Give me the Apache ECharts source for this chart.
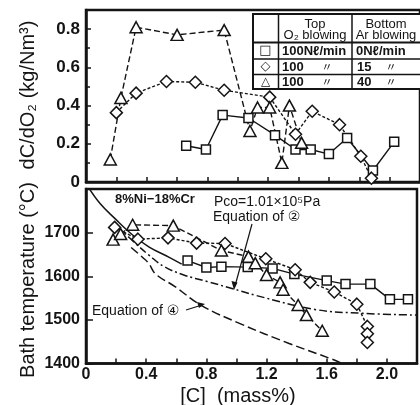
<!DOCTYPE html>
<html><head><meta charset="utf-8">
<script src="https://cdn.jsdelivr.net/npm/echarts@6/dist/echarts.min.js"></script>
<style>html,body{margin:0;padding:0;background:#fff}#c{width:420px;height:405px}</style>
</head><body><div id="c"></div>
<script>
// ---- Data ----
// Top panel: dC/dO2 (kg/Nm3) vs [C] mass%
const topSquareC  = [0.66,0.79,0.90,1.07,1.245,1.38,1.48,1.60,1.72,1.89,2.03];
const topSquareV  = [0.19,0.17,0.35,0.335,0.245,0.17,0.17,0.146,0.23,0.06,0.21];
const topDiamondC = [0.20,0.33,0.53,0.72,0.91,1.21,1.38,1.49,1.67,1.81,1.88];
const topDiamondV = [0.363,0.465,0.526,0.522,0.48,0.444,0.25,0.37,0.30,0.135,0.02];
const topTriC     = [0.16,0.23,0.33,0.60,0.91,1.08,1.13,1.21,1.29,1.34,1.42];
const topTriV     = [0.118,0.44,0.81,0.77,0.795,0.267,0.39,0.39,0.10,0.40,0.205];
// Bottom panel: bath temperature (°C) vs [C] mass%
const botSquareC  = [0.675,0.80,0.90,1.075,1.24,1.385,1.60,1.725,1.89,2.02,2.14];
const botSquareT  = [1636,1620,1622,1621,1618,1605,1590,1582,1582,1547,1547];
const botDiamondC = [0.19,0.345,0.545,0.735,0.924,1.195,1.39,1.49,1.65,1.80,1.87,1.87,1.87];
const botDiamondT = [1712,1685,1688,1676,1675,1640,1615,1586,1564,1536,1485,1468,1448];
const botTriC     = [0.18,0.23,0.31,0.58,0.90,1.08,1.125,1.20,1.29,1.31,1.41,1.465,1.57];
const botTriT     = [1684,1697,1718,1716,1659,1645,1630,1603,1586,1569,1534,1511,1475];
// Equilibrium curves
const solidCurveC = [0.008,0.095,0.193,0.312,0.42,0.55,0.636];
const solidCurveT = [1808,1766,1732,1694,1667,1644,1628];
const eq2C = [0.203,0.333,0.42,0.52,0.65,0.805,0.97,1.13,1.52,1.84,2.2];
const eq2T = [1716,1674,1648,1622,1603,1588,1572,1556,1524,1515,1511];
const eq4C = [0.30,0.377,0.416,0.463,0.589,0.762,1.02,1.35,1.65,1.70];
const eq4T = [1666,1643,1630,1605,1577,1534,1492,1446,1408,1400];
// Axis ticks
const xTickLabels = [0,0.4,0.8,1.2,1.6,2.0];
const yTopTickLabels = [0,0.2,0.4,0.6,0.8];
const yBotTickLabels = [1400,1500,1600,1700];

const zip = (a,b)=>a.map((v,i)=>[v,b[i]]);
const INK = '#141414';
const FONT = '"Liberation Sans", Arial, "DejaVu Sans", sans-serif';

const chart = echarts.init(document.getElementById('c'), null, {renderer:'canvas'});

function xAxisDef(idx, showLabels){
  return {type:'value', gridIndex:idx, min:0, max:2.2, interval:0.2,
    axisLine:{show:true, onZero:false, lineStyle:{color:INK, width:2.5}},
    axisTick:{show:true, inside:true, length:5, lineStyle:{color:INK, width:1.5}},
    splitLine:{show:false},
    axisLabel:{show:showLabels, color:INK, fontFamily:FONT, fontWeight:'bold', fontSize:16, margin:3,
      formatter:v=>{const hit=xTickLabels.find(t=>Math.abs(t-v)<1e-6);
        if(hit===undefined) return ''; return hit===0?'0':hit.toFixed(1);} }};
}

const markerStyle = {color:'#fff', borderColor:INK, borderWidth:1.5};

function dataSeries(name, x, y, gi, symbol, size, dash){
  return {name, type:'line', xAxisIndex:gi, yAxisIndex:gi, data:zip(x,y),
    symbol, symbolSize:size, showAllSymbol:true,
    lineStyle:{color:INK, width:1.4, type:dash},
    itemStyle:markerStyle, z:5, animation:false};
}
function curve(x,y,dash){
  return {type:'line', xAxisIndex:1, yAxisIndex:1, data:zip(x,y), smooth:0.4,
    symbol:'none', lineStyle:{color:INK, width:1.5, type:dash}, z:3, animation:false};
}

const option = {
  backgroundColor:'#fff',
  animation:false,
  grid:[
    {left:86, top:10, width:339, height:172, show:true, borderColor:INK, borderWidth:2.5},
    {left:86, top:189, width:339, height:174.5, show:true, borderColor:INK, borderWidth:2.5}
  ],
  xAxis:[xAxisDef(0,false), xAxisDef(1,true)],
  yAxis:[
    {type:'value', gridIndex:0, min:0, max:0.9, interval:0.2,
      minorTick:{show:true, splitNumber:2, length:4, lineStyle:{color:INK,width:1.5}},
      axisLine:{show:true, lineStyle:{color:INK,width:2.5}},
      axisTick:{show:true, inside:true, length:5, lineStyle:{color:INK,width:1.5}},
      splitLine:{show:false},
      axisLabel:{color:INK, fontFamily:FONT, fontWeight:'bold', fontSize:17, margin:6,
        formatter:v=>{const hit=yTopTickLabels.find(t=>Math.abs(t-v)<1e-6);
          if(hit===undefined) return ''; return hit===0?'0':hit.toFixed(1);} }},
    {type:'value', gridIndex:1, min:1400, max:1800, interval:100,
      axisLine:{show:true, lineStyle:{color:INK,width:2.5}},
      axisTick:{show:true, inside:true, length:7, lineStyle:{color:INK,width:1.5}},
      splitLine:{show:false},
      axisLabel:{color:INK, fontFamily:FONT, fontWeight:'bold', fontSize:16, margin:6,
        formatter:v=>yBotTickLabels.includes(v)?String(v):''}}
  ],
  series:[
    dataSeries('sq', topSquareC, topSquareV, 0, 'rect', 9, 'solid'),
    dataSeries('di', topDiamondC, topDiamondV, 0, 'diamond', 12, [3,2]),
    dataSeries('tr', topTriC, topTriV, 0, 'triangle', [12,11], [6,3]),
    curve(solidCurveC, solidCurveT, 'solid'),
    curve(eq2C, eq2T, [8,3,2,3]),
    curve(eq4C, eq4T, [9,4]),
    dataSeries('sq2', botSquareC, botSquareT, 1, 'rect', 9, 'solid'),
    dataSeries('di2', botDiamondC, botDiamondT, 1, 'diamond', 12, [3,2]),
    dataSeries('tr2', botTriC, botTriT, 1, 'triangle', [12,11], [6,3])
  ],
  graphic:[
    // axis titles
    {type:'text', x:28, y:95, rotation:Math.PI/2, z:10,
      style:{text:'dC/dO\u2082 (kg/Nm\u00b3)', font:'20px '+FONT, fill:INK, textAlign:'center', textVerticalAlign:'middle'}},
    {type:'text', x:28, y:280, rotation:Math.PI/2, z:10,
      style:{text:'Bath temperature (\u00b0C)', font:'20px '+FONT, fill:INK, textAlign:'center', textVerticalAlign:'middle'}},
    {type:'text', x:238, y:396, z:10,
      style:{text:'[C]  (mass%)', font:'20px '+FONT, fill:INK, textAlign:'center', textVerticalAlign:'middle'}},
    // annotations
    {type:'text', x:155, y:199, z:10,
      style:{text:'8%Ni\u221218%Cr', font:'bold 13px '+FONT, fill:INK, textAlign:'center', textVerticalAlign:'middle'}},
    {type:'text', x:214, y:202, z:10,
      style:{text:'Pco=1.01\u00d710\u2075Pa', font:'14px '+FONT, fill:INK, textAlign:'left', textVerticalAlign:'middle'}},
    {type:'text', x:213, y:217, z:10,
      style:{text:'Equation of \u2461', font:'14px '+FONT, fill:INK, textAlign:'left', textVerticalAlign:'middle'}},
    {type:'text', x:92, y:311, z:10,
      style:{text:'Equation of \u2463', font:'14px '+FONT, fill:INK, textAlign:'left', textVerticalAlign:'middle'}},
    {type:'line', z:10, shape:{x1:252, y1:224, x2:235, y2:286}, style:{stroke:INK, lineWidth:1.2}},
    {type:'polygon', z:10, shape:{points:[[234,290],[231.5,281],[237.5,282.5]]}, style:{fill:INK}},
    {type:'line', z:10, shape:{x1:186, y1:310, x2:202, y2:305}, style:{stroke:INK, lineWidth:1.2}},
    {type:'polygon', z:10, shape:{points:[[205,304],[197,302],[199,308]]}, style:{fill:INK}},
    // legend table
    {type:'rect', z:10, shape:{x:253, y:14, width:170, height:75}, style:{fill:'#fff', stroke:INK, lineWidth:2}},
    {type:'line', z:11, shape:{x1:278.5, y1:14, x2:278.5, y2:89}, style:{stroke:INK, lineWidth:1.5}},
    {type:'line', z:11, shape:{x1:352, y1:14, x2:352, y2:89}, style:{stroke:INK, lineWidth:1.5}},
    {type:'line', z:11, shape:{x1:253, y1:42.5, x2:423, y2:42.5}, style:{stroke:INK, lineWidth:2}},
    {type:'line', z:11, shape:{x1:253, y1:59, x2:423, y2:59}, style:{stroke:INK, lineWidth:1.5}},
    {type:'line', z:11, shape:{x1:253, y1:74.5, x2:423, y2:74.5}, style:{stroke:INK, lineWidth:1.5}},
    {type:'text', z:12, x:315, y:24, style:{text:'Top', font:'13px '+FONT, fill:INK, textAlign:'center', textVerticalAlign:'middle'}},
    {type:'text', z:12, x:315, y:35, style:{text:'O\u2082 blowing', font:'13px '+FONT, fill:INK, textAlign:'center', textVerticalAlign:'middle'}},
    {type:'text', z:12, x:386, y:24, style:{text:'Bottom', font:'13px '+FONT, fill:INK, textAlign:'center', textVerticalAlign:'middle'}},
    {type:'text', z:12, x:386, y:35, style:{text:'Ar blowing', font:'13px '+FONT, fill:INK, textAlign:'center', textVerticalAlign:'middle'}},
    {type:'text', z:12, x:265.5, y:51, style:{text:'\u25a1', font:'13px "DejaVu Sans"', fill:INK, textAlign:'center', textVerticalAlign:'middle'}},
    {type:'text', z:12, x:265.5, y:67, style:{text:'\u25c7', font:'13px "DejaVu Sans"', fill:INK, textAlign:'center', textVerticalAlign:'middle'}},
    {type:'text', z:12, x:265.5, y:82, style:{text:'\u25b3', font:'12px "DejaVu Sans"', fill:INK, textAlign:'center', textVerticalAlign:'middle'}},
    {type:'text', z:12, x:282, y:51, style:{text:'100N\u2113/min', font:'bold 13px '+FONT, fill:INK, textAlign:'left', textVerticalAlign:'middle'}},
    {type:'text', z:12, x:356, y:51, style:{text:'0N\u2113/min', font:'bold 13px '+FONT, fill:INK, textAlign:'left', textVerticalAlign:'middle'}},
    {type:'text', z:12, x:282, y:67, style:{text:'100', font:'bold 13px '+FONT, fill:INK, textAlign:'left', textVerticalAlign:'middle'}},
    {type:'text', z:12, x:327, y:67, style:{text:'\u3003', font:'11px "Noto Sans CJK JP"', fill:INK, textAlign:'center', textVerticalAlign:'middle'}},
    {type:'text', z:12, x:357, y:67, style:{text:'15', font:'bold 13px '+FONT, fill:INK, textAlign:'left', textVerticalAlign:'middle'}},
    {type:'text', z:12, x:391, y:67, style:{text:'\u3003', font:'11px "Noto Sans CJK JP"', fill:INK, textAlign:'center', textVerticalAlign:'middle'}},
    {type:'text', z:12, x:282, y:82, style:{text:'100', font:'bold 13px '+FONT, fill:INK, textAlign:'left', textVerticalAlign:'middle'}},
    {type:'text', z:12, x:327, y:82, style:{text:'\u3003', font:'11px "Noto Sans CJK JP"', fill:INK, textAlign:'center', textVerticalAlign:'middle'}},
    {type:'text', z:12, x:357, y:82, style:{text:'40', font:'bold 13px '+FONT, fill:INK, textAlign:'left', textVerticalAlign:'middle'}},
    {type:'text', z:12, x:391, y:82, style:{text:'\u3003', font:'11px "Noto Sans CJK JP"', fill:INK, textAlign:'center', textVerticalAlign:'middle'}}
  ]
};
chart.setOption(option);
</script></body></html>
